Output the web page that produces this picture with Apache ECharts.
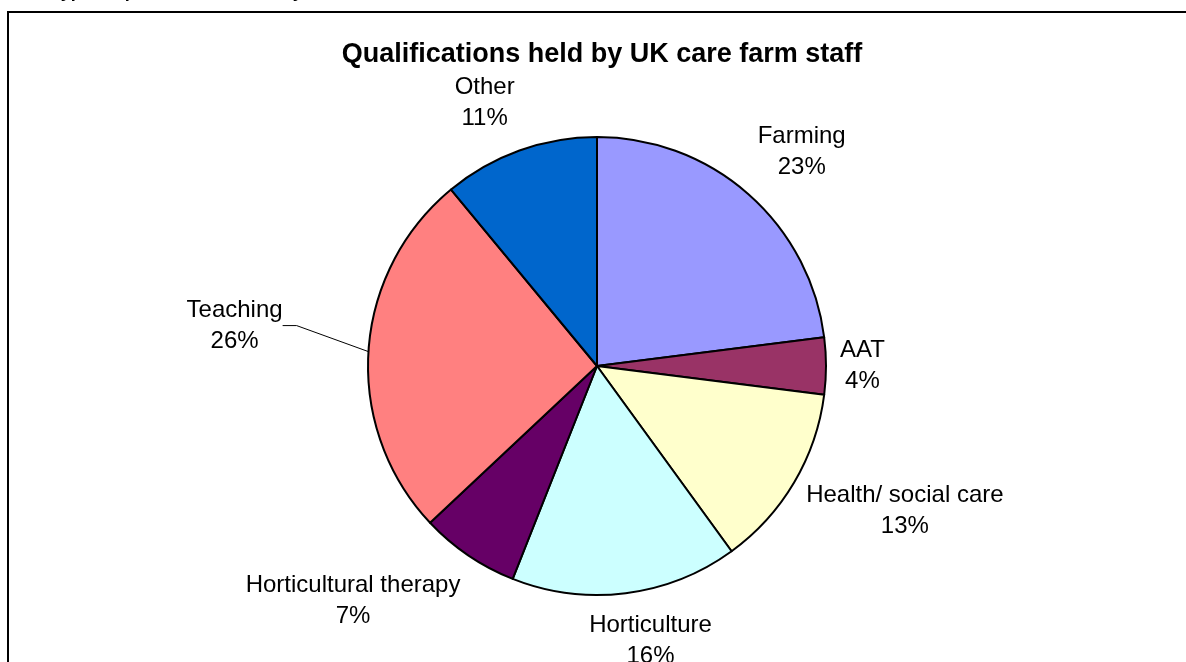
<!DOCTYPE html>
<html>
<head>
<meta charset="utf-8">
<script src="https://cdn.jsdelivr.net/npm/echarts@6/dist/echarts.min.js"></script>
<style>
  html, body { margin: 0; padding: 0; background: #fff; }
  #chart-panel { width: 1186px; height: 662px; }
</style>
</head>
<body>
<div id="chart-panel"></div>
<script>
// data
const categories = ["Farming", "AAT", "Health/ social care", "Horticulture", "Horticultural therapy", "Teaching", "Other"]
const shares = [23, 4, 13, 16, 7, 26, 11]
const sliceColors = ["#9999ff", "#993366", "#ffffcc", "#ccffff", "#660066", "#ff8080", "#0066cc"]

const font = "'Liberation Sans', Arial, sans-serif"
const cx = 597
const cy = 366
const radius = 229
const labelGap = 14
// the label that was dragged away from the pie, with a leader line
const pulledLabel = "Teaching"
const pulledExtra = 72
const pulledRise = 18

const total = shares.reduce((a, b) => a + b, 0)
const midAngles = []
let acc = 0
shares.forEach((v) => {
  midAngles.push(((acc + v / 2) / total) * Math.PI * 2)
  acc += v
})
const clamp = (v, lo, hi) => Math.max(lo, Math.min(hi, v))

const chart = echarts.init(document.getElementById("chart-panel"), null, { renderer: "canvas" })

const options = {
  backgroundColor: "#ffffff",
  animation: false,
  title: {
    text: "Qualifications held by UK care farm staff",
    left: cx,
    textAlign: "center",
    top: 36,
    textStyle: {
      fontFamily: font,
      fontWeight: "bold",
      fontSize: 27,
      color: "#000"
    }
  },
  graphic: [
    {
      type: "text",
      left: -30,
      top: -17,
      style: {
        text: "Figure 4: Type of qualifications held by care farm staff",
        font: "bold 18px " + font,
        fill: "#000"
      }
    },
    {
      type: "rect",
      shape: { x: 8, y: 12, width: 1300, height: 800 },
      style: { fill: "none", stroke: "#000", lineWidth: 2 }
    }
  ],
  series: [
    {
      type: "pie",
      center: [cx, cy],
      radius: radius,
      startAngle: 90,
      clockwise: true,
      avoidLabelOverlap: false,
      itemStyle: {
        borderColor: "#000",
        borderWidth: 2
      },
      label: {
        show: true,
        position: "outside",
        fontFamily: font,
        fontSize: 24,
        lineHeight: 31,
        color: "#000",
        formatter: (p) => `${p.name}\n${p.value}%`
      },
      labelLine: {
        show: false,
        length: 10,
        length2: 14,
        lineStyle: { color: "#000", width: 1 }
      },
      labelLayout: (params) => {
        const a = midAngles[params.dataIndex]
        const dx = Math.sin(a)
        const dy = -Math.cos(a)
        const hw = params.labelRect.width / 2
        const hh = params.labelRect.height / 2
        let L = radius + labelGap
        let rise = 0
        if (categories[params.dataIndex] === pulledLabel) {
          L += pulledExtra
          rise = pulledRise
        }
        return {
          x: cx + dx * L + hw * clamp(dx * 3, -1, 1),
          y: cy + dy * L + hh * clamp(dy * 1.35, -1.1, 1.1) - rise,
          align: "center",
          verticalAlign: "middle"
        }
      },
      data: categories.map((name, i) => ({
        name: name,
        value: shares[i],
        itemStyle: { color: sliceColors[i] },
        labelLine: { show: name === pulledLabel }
      }))
    }
  ]
}
chart.setOption(options)
</script>
</body>
</html>
